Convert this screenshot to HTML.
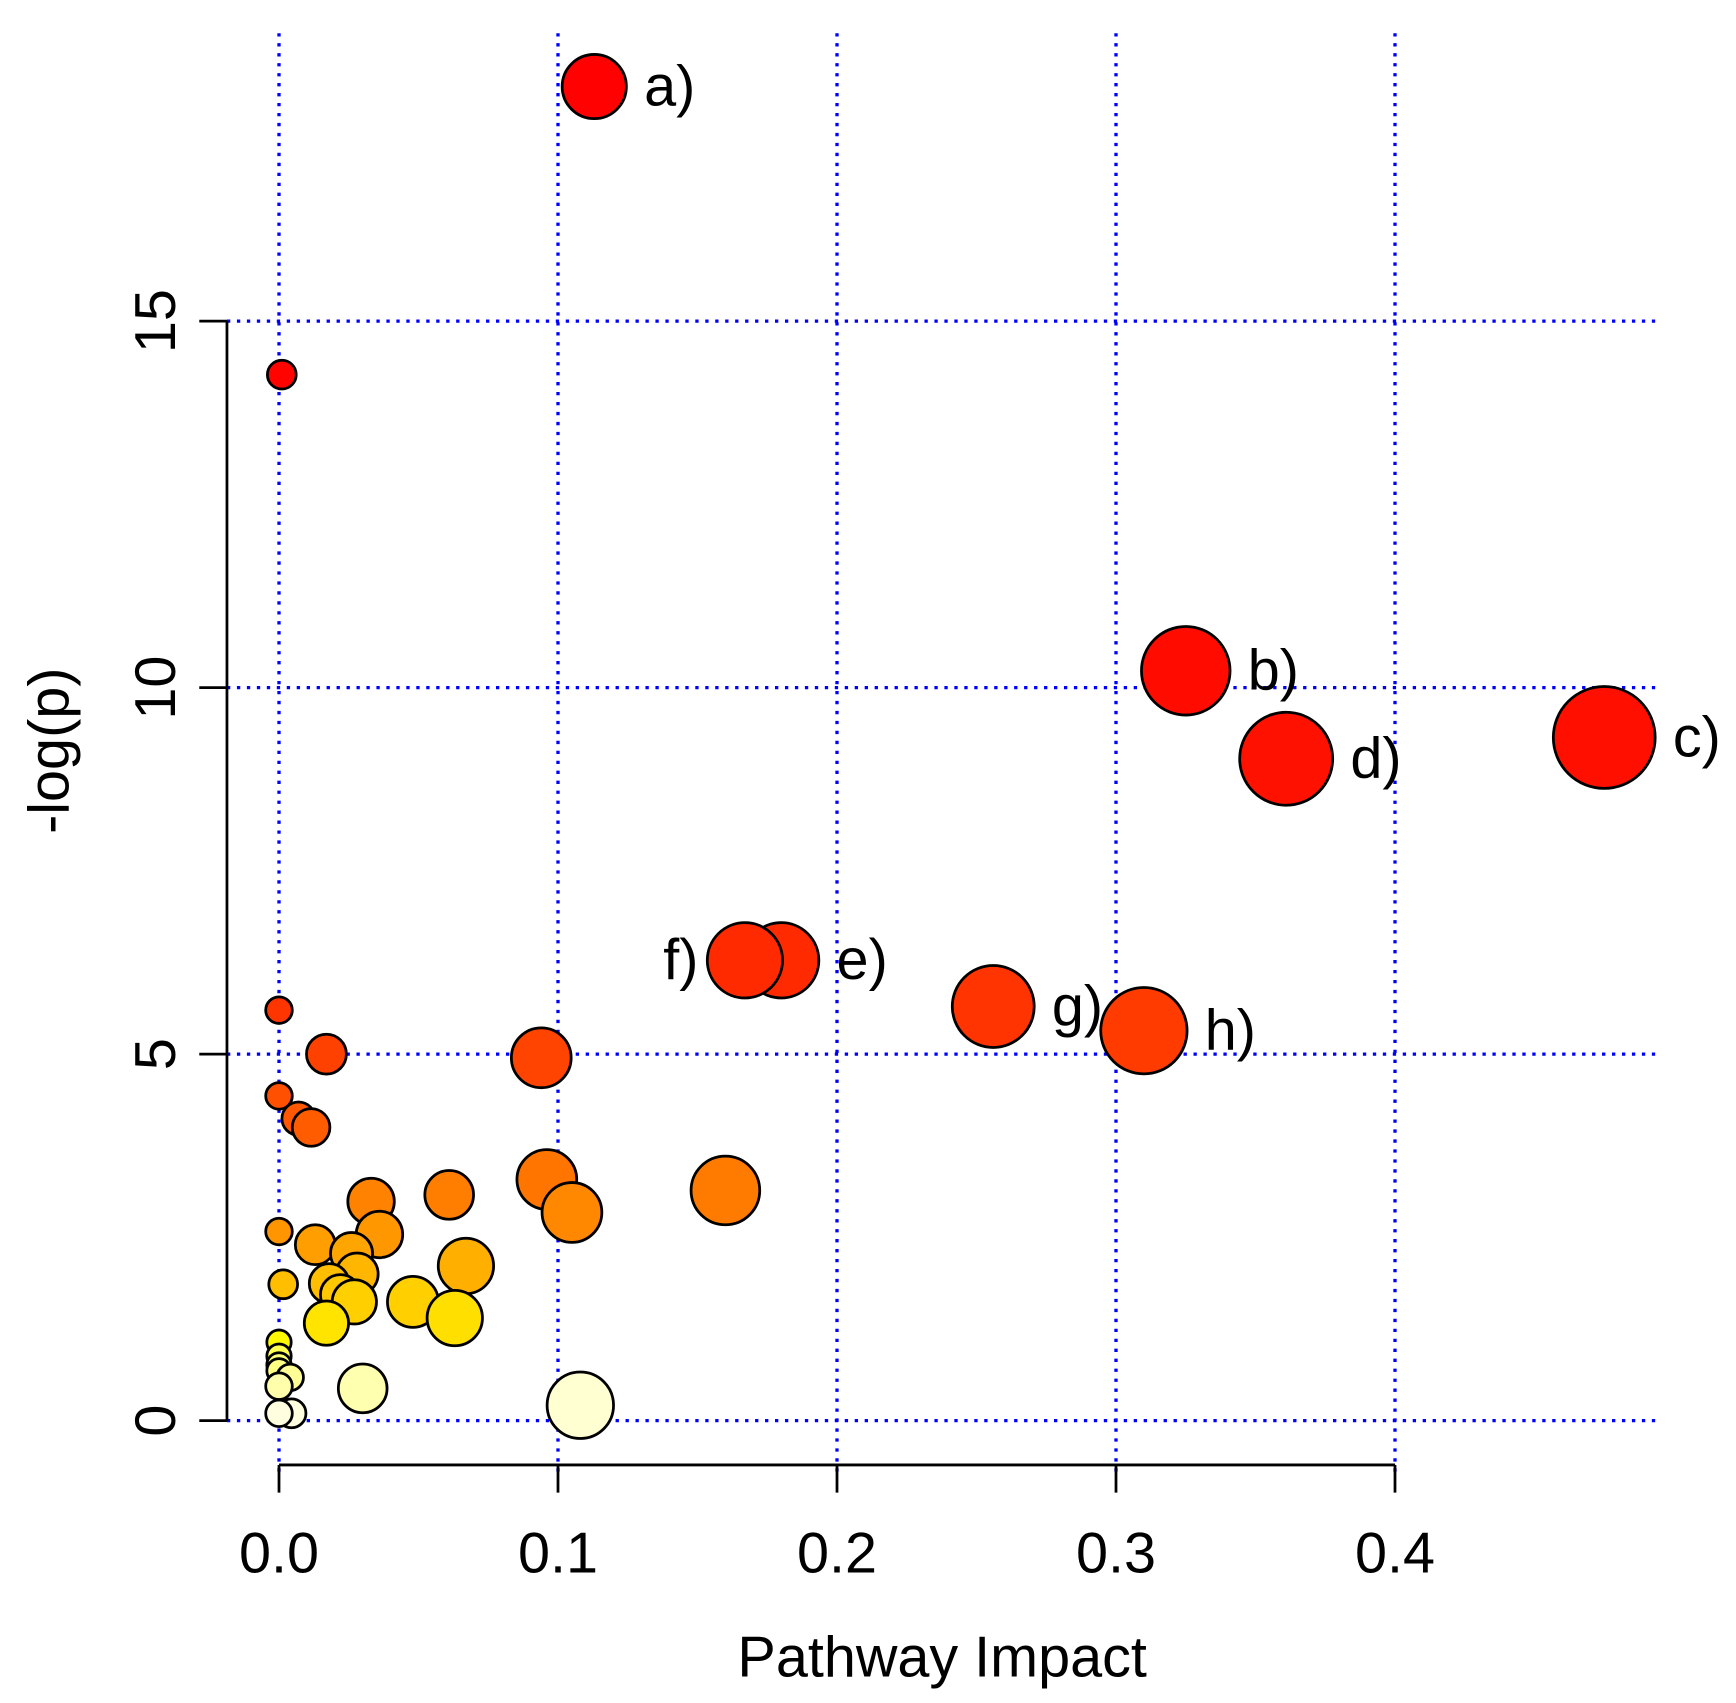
<!DOCTYPE html>
<html><head><meta charset="utf-8"><style>
html,body{margin:0;padding:0;background:#fff;}
svg{display:block;font-family:"Liberation Sans",Arial,sans-serif;}
</style></head><body>
<svg id="chart" width="1736" height="1703" viewBox="0 0 1568 1538" preserveAspectRatio="none" xmlns="http://www.w3.org/2000/svg">
<g id="grid"></g>
<g id="axes"></g>
<g id="points"></g>
<g id="labels"></g>
<text x="851" y="1514" font-size="52" text-anchor="middle">Pathway Impact</text>
<text x="0" y="0" font-size="52" text-anchor="middle" transform="translate(62,678) rotate(-90)">-log(p)</text>
</svg>
<script>
const xTicks = [0.0, 0.1, 0.2, 0.3, 0.4];
const xTickLabels = ["0.0", "0.1", "0.2", "0.3", "0.4"];
const yTicks = [0, 5, 10, 15];
const yTickLabels = ["0", "5", "10", "15"];
const impact = [0.113,0.325,0.475,0.361,0.180,0.167,0.256,0.310,0.001,0,0.017,0.094,0,0.007,0.0115,0.096,0.160,0.033,0.061,0.105,0.036,0,0.013,0.026,0.067,0.028,0.0015,0.018,0.022,0.027,0.048,0.063,0.017,0,0,0,0,0.004,0,0.030,0.108,0.0045,0];
const logp = [18.2,10.23,9.32,9.03,6.28,6.28,5.65,5.32,14.27,5.6,5.0,4.95,4.43,4.12,4.0,3.29,3.14,2.99,3.08,2.84,2.54,2.58,2.4,2.28,2.11,2.0,1.86,1.87,1.72,1.62,1.62,1.4,1.33,1.07,0.88,0.76,0.68,0.59,0.47,0.44,0.21,0.1,0.1];
const sizes = [29,40,46,42,34,34,37,39,13,12,18,27,12,15,17,27,31,21,22,27,21,12,18,19,25,19,13,18,18,20,23,25,20,11,11,11,11,12,12,22,30,13,12];
const pointLabels = ["a)","b)","c)","d)","e)","f)","g)","h)"];
const labelSide = ["r","r","r","r","r","l","r","r"];

const NS = "http://www.w3.org/2000/svg";
const X0 = 252, XS = 2520, Y0 = 1283, YS = 66.2;
function sx(v){ return X0 + v*XS; }
function sy(v){ return Y0 - v*YS; }
function heat(y){
  const g = y <= 1 ? 255 : Math.round(255*Math.exp(-(y-1)*0.34));
  const b = y >= 1 ? 0 : Math.round(235*Math.sqrt(1-y));
  return `rgb(255,${g},${b})`;
}
function mk(tag, attrs, parent){
  const e = document.createElementNS(NS, tag);
  for (const k in attrs) e.setAttribute(k, attrs[k]);
  parent.appendChild(e); return e;
}
const grid = document.getElementById('grid'), axes = document.getElementById('axes');
const pts = document.getElementById('points'), lab = document.getElementById('labels');
const dash = {stroke:'#0000ff','stroke-width':3,'stroke-dasharray':'3 6',fill:'none'};
xTicks.forEach((t,i)=>{
  const l = mk('line', Object.assign({x1:sx(t),x2:sx(t),y1:30,y2:1330}, dash), grid);
  
  
  const tk = mk('line',{x1:sx(t),x2:sx(t),y1:1323,y2:1348,stroke:'#000','stroke-width':2.5},axes);
  
  
  const tx = mk('text',{x:sx(t),y:1420,'font-size':52,'text-anchor':'middle'},axes);
  tx.textContent = xTickLabels[i];
  
  
});
yTicks.forEach((t,i)=>{
  const l = mk('line', Object.assign({x1:205,x2:1500,y1:sy(t),y2:sy(t)}, dash), grid);
  
  
  const tk = mk('line',{x1:180,x2:205,y1:sy(t),y2:sy(t),stroke:'#000','stroke-width':2.5},axes);
  
  
  const tx = mk('text',{x:0,y:0,'font-size':52,'text-anchor':'middle',transform:`translate(158,${sy(t)}) rotate(-90)`},axes);
  tx.textContent = yTickLabels[i];
  
  
});
const ya = mk('line',{x1:205,x2:205,y1:sy(yTicks[yTicks.length-1]),y2:sy(yTicks[0]),stroke:'#000','stroke-width':2.5},axes);


const xa = mk('line',{x1:sx(xTicks[0]),x2:sx(xTicks[xTicks.length-1]),y1:1323,y2:1323,stroke:'#000','stroke-width':2.5},axes);


impact.forEach((v,i)=>{
  const c = mk('circle',{cx:sx(v),cy:sy(logp[i]),r:sizes[i],fill:heat(logp[i]),stroke:'#000','stroke-width':2.5},pts);
  
  
});
pointLabels.forEach((s,i)=>{
  const cx = sx(impact[i]), r = sizes[i];
  const left = labelSide[i]==='l';
  const t = mk('text',{x: left ? cx-r-8 : cx+r+16, y: sy(logp[i])+17,'font-size':52,'text-anchor': left?'end':'start'},lab);
  t.textContent = s;
  
  
});
</script>
</body></html>
